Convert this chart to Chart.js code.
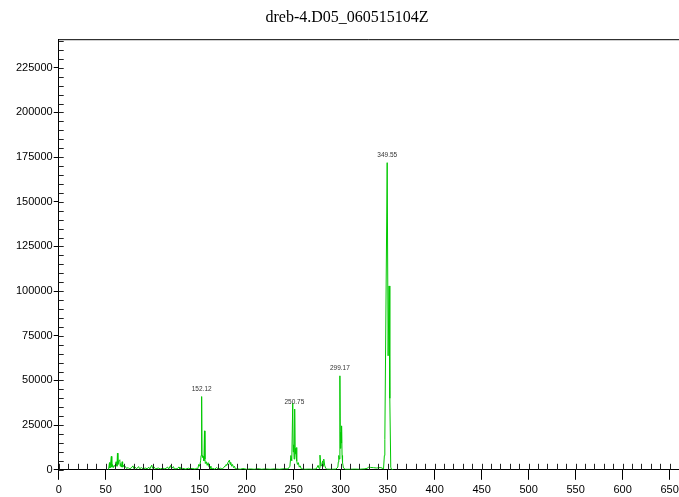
<!DOCTYPE html>
<html>
<head>
<meta charset="utf-8">
<script src="https://cdn.jsdelivr.net/npm/chart.js@4"></script>
<style>
  body { margin: 0; background: #fff; }
  #wrap { width: 679px; height: 497px; }
</style>
</head>
<body>
<div id="wrap"><canvas id="spectrum"></canvas></div>
<script>
// m/z values and intensities
var mz = [53, 54, 54.5, 55, 56, 56.5, 57, 58, 59, 60, 61, 62, 62.5, 63, 64, 65, 65.5, 66, 67, 67.5,
  68, 69, 70, 71, 72, 74, 75, 77, 79, 80, 81, 83, 85, 86, 88, 90, 92, 94, 96, 97,
  99, 100, 101, 103, 106, 108, 111, 113, 116, 117, 119, 120, 122, 123, 126, 128, 129, 132, 135, 138,
  140, 142, 145, 147, 148, 149, 150, 151, 151.5, 152.1, 152.5, 153, 154, 154.5, 155.1, 155.6, 156, 157, 158, 159,
  160, 161, 162, 164, 166, 168, 170, 172, 174, 176, 177, 178, 179, 180, 181.6, 182.5, 183, 184, 185, 186,
  187, 188, 190, 193, 196, 200, 204, 208, 212, 216, 220, 225, 230, 235, 240, 244, 246, 247, 248, 249,
  249.6, 250, 250.5, 251.1, 251.6, 252, 252.5, 253, 253.5, 254, 255, 256, 257, 258, 262, 266, 270, 274, 275, 276,
  277, 278, 279, 280, 280.8, 281.5, 282, 283, 284, 285, 290, 295, 297, 297.5, 298, 298.5, 299.2, 299.7, 300.2, 300.6,
  301, 301.5, 302, 303, 305, 310, 315, 320, 325, 328, 330, 332, 335, 338, 340, 342, 344, 345.6, 346.5, 347,
  349.5, 350.5, 351.5, 352.3, 353.3, 354, 356];
var intensity = [0, 4000, 1000, 2500, 7500, 1500, 3000, 1200, 2500, 1800, 4500, 2000, 9300, 3000, 5000, 5600, 2000, 3500, 1500, 4500,
  1500, 2500, 1200, 1800, 800, 1200, 600, 900, 2200, 700, 1500, 600, 1800, 600, 1200, 500, 1000, 600, 1400, 500,
  2600, 800, 1800, 500, 1000, 500, 900, 500, 1500, 400, 2400, 600, 1800, 500, 600, 1600, 400, 800, 400, 900,
  500, 800, 400, 900, 600, 3000, 2000, 5000, 8000, 41000, 8000, 7000, 7500, 5000, 21800, 6000, 3500, 4500, 2500, 4000,
  1500, 2000, 600, 800, 400, 1200, 400, 900, 400, 1500, 2200, 3000, 2500, 4000, 5400, 3000, 4200, 2000, 3000, 1200,
  2000, 500, 600, 300, 700, 300, 500, 300, 600, 300, 500, 300, 500, 300, 600, 500, 2000, 8000, 5000, 37300,
  10000, 14000, 6000, 34000, 9000, 12000, 8000, 12500, 5000, 3000, 4000, 1500, 2200, 600, 300, 400, 300, 500, 1500, 2500,
  800, 8200, 2000, 3000, 5000, 2000, 6000, 2500, 1000, 400, 300, 400, 1500, 4300, 8000, 6000, 52600, 12000, 21000, 15000,
  24600, 8000, 4000, 1000, 300, 300, 400, 300, 500, 800, 1500, 1300, 1200, 1000, 1100, 1300, 1000, 500, 8000, 17000,
  171900, 63800, 102900, 40000, 1500, 300, 0];

// labelled peaks
var peakMz = [152.12, 250.75, 299.17, 349.55];
var peakText = ['152.12', '250.75', '299.17', '349.55'];

// axis tick labels
var xTicks = [0, 50, 100, 150, 200, 250, 300, 350, 400, 450, 500, 550, 600, 650];
var yTicks = [0, 25000, 50000, 75000, 100000, 125000, 150000, 175000, 200000, 225000];

var xMax = 660, yMax = 241000;
var xMinor = 10, yMinor = 5000;

var points = mz.map(function (m, i) { return { x: m, y: intensity[i] }; });

var frameAndTicks = {
  id: 'frameAndTicks',
  afterDraw: function (chart) {
    var ctx = chart.ctx, a = chart.chartArea;
    var x = chart.scales.x, y = chart.scales.y;
    ctx.save();
    ctx.strokeStyle = '#000';
    ctx.lineWidth = 1;
    ctx.beginPath();
    ctx.moveTo(a.left, a.top + 0.5);
    ctx.lineTo(a.right, a.top + 0.5);
    ctx.stroke();
    ctx.strokeStyle = '#222';
    ctx.beginPath();
    for (var v = 0; v <= xMax; v += xMinor) {
      var px = Math.round(x.getPixelForValue(v)) + 0.5;
      ctx.moveTo(px, a.bottom);
      ctx.lineTo(px, a.bottom - 6);
    }
    for (var w = 0; w <= yMax; w += yMinor) {
      var py = Math.round(y.getPixelForValue(w)) + 0.5;
      ctx.moveTo(a.left, py);
      ctx.lineTo(a.left + 5, py);
    }
    ctx.stroke();

    // peak labels above the highest point near each labelled m/z
    ctx.fillStyle = '#333';
    ctx.font = '6.5px "Liberation Sans", Arial, sans-serif';
    ctx.textAlign = 'center';
    ctx.textBaseline = 'bottom';
    peakMz.forEach(function (p, k) {
      var best = 0;
      mz.forEach(function (m, i) {
        if (Math.abs(m - p) < 1 && intensity[i] > best) best = intensity[i];
      });
      ctx.fillText(peakText[k], x.getPixelForValue(p), y.getPixelForValue(best) - 4);
    });
    ctx.restore();
  }
};

var ctx = document.getElementById('spectrum').getContext('2d');
var myChart = new Chart(ctx, {
  type: 'line',
  data: {
    datasets: [{
      data: points,
      borderColor: 'rgb(0, 200, 0)',
      borderWidth: 1,
      pointRadius: 0,
      tension: 0,
      fill: false
    }]
  },
  options: {
    responsive: true,
    maintainAspectRatio: false,
    animation: false,
    layout: { padding: { left: 15, right: 0, top: 0, bottom: -4 } },
    plugins: {
      legend: { display: false },
      tooltip: { enabled: false },
      title: {
        display: true,
        text: 'dreb-4.D05_060515104Z',
        color: '#000',
        font: { family: '"Liberation Serif", "Times New Roman", serif', size: 16, weight: 'normal' },
        padding: { top: 8, bottom: 12 }
      }
    },
    scales: {
      x: {
        type: 'linear',
        min: 0,
        max: xMax,
        afterBuildTicks: function (s) { s.ticks = xTicks.map(function (v) { return { value: v }; }); },
        afterFit: function (s) { s.paddingRight = 0; },
        ticks: {
          color: '#000',
          padding: 4,
          maxRotation: 0,
          autoSkip: false,
          font: { family: '"Liberation Sans", Arial, sans-serif', size: 11 }
        },
        grid: { drawOnChartArea: false, tickLength: 10, color: '#000' },
        border: { display: true, color: '#000', width: 1 }
      },
      y: {
        min: 0,
        max: yMax,
        afterBuildTicks: function (s) { s.ticks = yTicks.map(function (v) { return { value: v }; }); },
        ticks: {
          color: '#000',
          padding: 1,
          autoSkip: false,
          callback: function (v) { return String(v); },
          font: { family: '"Liberation Sans", Arial, sans-serif', size: 11 }
        },
        grid: { drawOnChartArea: false, tickLength: 5, color: '#000' },
        border: { display: true, color: '#000', width: 1 }
      }
    }
  },
  plugins: [frameAndTicks]
});
</script>
</body>
</html>
